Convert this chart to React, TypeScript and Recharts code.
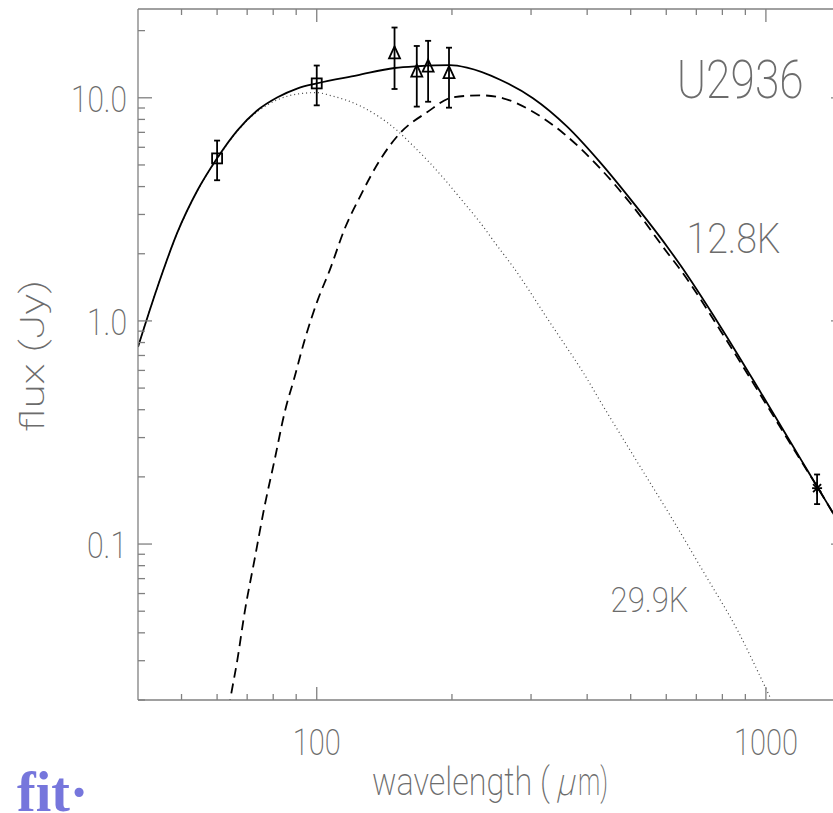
import React from "react";
import { ComposedChart, Line, Scatter, XAxis, YAxis, ErrorBar, ReferenceDot } from "recharts";

// total fit (solid line)
const totalWave = [40, 44.2, 48.9, 54.3, 60, 66.6, 73.8, 81.8, 90.7, 100, 123, 149, 168, 198, 216, 256, 303, 361, 428, 507, 604, 646, 793, 975, 1197, 1300, 1418, 1509];
const totalFlux = [0.765, 1.42, 2.48, 3.86, 5.36, 7.15, 8.79, 10.05, 11.03, 11.61, 12.61, 13.6, 13.85, 14.0, 13.65, 12.05, 9.95, 7.42, 5.12, 3.38, 2.14, 1.77, 0.94, 0.476, 0.239, 0.181, 0.1355, 0.11];

// cold component 12.8K (dashed)
const coldWave = [63.6, 64.3, 66.6, 69.1, 72.7, 76.5, 80.6, 84.8, 89.3, 94, 100.5, 106.9, 115.5, 124.7, 138.2, 153.2, 176, 201, 231, 260, 299, 354, 425, 507, 604, 646, 793, 975, 1197, 1300, 1509];
const coldFlux = [0.0182, 0.0206, 0.0304, 0.0494, 0.0852, 0.147, 0.239, 0.388, 0.562, 0.822, 1.24, 1.69, 2.6, 3.59, 5.25, 6.94, 8.61, 10.05, 10.26, 9.95, 8.79, 6.94, 4.89, 3.24, 2.015, 1.69, 0.902, 0.462, 0.236, 0.181, 0.109];

// warm component 29.9K (dotted)
const warmWave = [40, 44.2, 48.9, 54.3, 60, 66.6, 73.8, 81.8, 90.7, 100, 106.9, 126.7, 150.8, 163.8, 178.7, 195.1, 211.8, 231.1, 252.2, 273.8, 298.8, 326.1, 354.1, 392.4, 423.9, 518, 614, 727, 866, 990, 1026];
const warmFlux = [0.765, 1.42, 2.47, 3.84, 5.32, 7.1, 8.68, 9.8, 10.4, 10.55, 10.26, 9.07, 7.15, 6.1, 5.1, 4.18, 3.42, 2.76, 2.17, 1.744, 1.345, 1.025, 0.8, 0.585, 0.45, 0.232, 0.133, 0.0747, 0.0408, 0.0235, 0.0202];

// measured fluxes
const isoWave = [60, 100];
const isoFlux = [5.35, 11.6];
const isoErr = [1.08, 2.35];

const phtWave = [149, 167, 177, 197];
const phtFlux = [15.8, 13.1, 13.8, 12.9];
const phtErr = [4.85, 3.97, 4.2, 3.87];

const mmWave = [1300];
const mmFlux = [0.178];
const mmErr = [0.027];

// axis ticks
const xMajor = [100, 1000];
const xMinor = [50, 60, 70, 80, 90, 200, 300, 400, 500, 600, 700, 800, 900];
const yMajor = [0.1, 1, 10];
const yMinor = [0.02, 0.03, 0.04, 0.05, 0.06, 0.07, 0.08, 0.09, 0.2, 0.3, 0.4, 0.5, 0.6, 0.7, 0.8, 0.9, 2, 3, 4, 5, 6, 7, 8, 9, 20];

const pts = (w: number[], f: number[]) => w.map((x, i) => ({ x, y: f[i] }));
const obs = (w: number[], f: number[], e: number[]) => w.map((x, i) => ({ x, y: f[i], err: e[i] }));

const totalData = pts(totalWave, totalFlux);
const coldData = pts(coldWave, coldFlux);
const warmData = pts(warmWave, warmFlux);
const isoData = obs(isoWave, isoFlux, isoErr);
const phtData = obs(phtWave, phtFlux, phtErr);
const mmData = obs(mmWave, mmFlux, mmErr);

const AXIS = "#808080";
const TXT = "#6c6c6c";
const FONT = "Roboto, 'DejaVu Sans', sans-serif";
const WEIGHT = 200;

const labelWidth = (s: string) => s.replace(/\./g, "").length * 16 + (s.includes(".") ? 8 : 0);

const BottomTick = (p: any) => {
  const major = xMajor.includes(p.payload.value);
  const s = String(p.payload.value);
  return (
    <g>
      <line x1={p.x} x2={p.x} y1={p.y} y2={p.y - (major ? 13 : 6)} stroke={AXIS} strokeWidth={1.3} />
      {major && (
        <text x={p.x} y={p.y + 55} textAnchor="middle" fontSize={36} fontFamily={FONT} fontWeight={WEIGHT} fill={TXT}
          textLength={labelWidth(s)} lengthAdjust="spacingAndGlyphs">{s}</text>
      )}
    </g>
  );
};

const TopTick = (p: any) => {
  const major = xMajor.includes(p.payload.value);
  return <line x1={p.x} x2={p.x} y1={p.y} y2={p.y + (major ? 13 : 6)} stroke={AXIS} strokeWidth={1.3} />;
};

const LeftTick = (p: any) => {
  const major = yMajor.includes(p.payload.value);
  const s = Number(p.payload.value).toFixed(1);
  return (
    <g>
      <line x1={p.x} x2={p.x + (major ? 14 : 7)} y1={p.y} y2={p.y} stroke={AXIS} strokeWidth={1.3} />
      {major && (
        <text x={p.x - 11} y={p.y + 14} textAnchor="end" fontSize={36} fontFamily={FONT} fontWeight={WEIGHT} fill={TXT}
          textLength={labelWidth(s)} lengthAdjust="spacingAndGlyphs">{s}</text>
      )}
    </g>
  );
};

const RightTick = (p: any) => {
  const major = yMajor.includes(p.payload.value);
  return <line x1={p.x} x2={p.x - (major ? 14 : 7)} y1={p.y} y2={p.y} stroke={AXIS} strokeWidth={1.3} />;
};

const Square = (p: any) => (
  <rect x={p.cx - 5} y={p.cy - 5} width={10} height={10} fill="none" stroke="#000" strokeWidth={1.8} />
);
const Triangle = (p: any) => (
  <path d={`M${p.cx},${p.cy - 7}L${p.cx + 5.5},${p.cy + 5}L${p.cx - 5.5},${p.cy + 5}Z`} fill="none" stroke="#000" strokeWidth={1.8} />
);
const Asterisk = (p: any) => (
  <g stroke="#000" strokeWidth={1.8}>
    <line x1={p.cx - 5} x2={p.cx + 5} y1={p.cy} y2={p.cy} />
    <line x1={p.cx} x2={p.cx} y1={p.cy - 6} y2={p.cy + 6} />
    <line x1={p.cx - 4} x2={p.cx + 4} y1={p.cy - 4} y2={p.cy + 4} />
    <line x1={p.cx - 4} x2={p.cx + 4} y1={p.cy + 4} y2={p.cy - 4} />
  </g>
);

const annot = (txt: string, size: number, width: number) => (p: any) => (
  <text x={p.cx} y={p.cy} fontSize={size} fontFamily={FONT} fontWeight={WEIGHT} fill={TXT}
    textLength={width} lengthAdjust="spacingAndGlyphs">{txt}</text>
);

const xTicks = [...xMinor, ...xMajor].sort((a, b) => a - b);
const yTicks = [...yMinor, ...yMajor].sort((a, b) => a - b);

export default function App() {
  return (
    <div style={{ position: "fixed", left: 0, top: 0, width: 833, height: 813, overflow: "hidden", background: "#fff" }}>
      <ComposedChart width={880} height={813} margin={{ top: 8, right: 34, bottom: 53, left: 78 }}>
        <XAxis xAxisId={0} dataKey="x" type="number" scale="log" domain={[40, 1500]} allowDataOverflow
          ticks={xTicks} interval={0} tickSize={0} tickMargin={0} tickLine={false} height={60}
          axisLine={{ stroke: AXIS, strokeWidth: 1.3 }} tick={BottomTick} />
        <XAxis xAxisId="top" orientation="top" dataKey="x" type="number" scale="log" domain={[40, 1500]} allowDataOverflow
          ticks={xTicks} interval={0} tickSize={0} tickMargin={0} tickLine={false} height={1}
          axisLine={{ stroke: AXIS, strokeWidth: 1.3 }} tick={TopTick} />
        <YAxis yAxisId={0} dataKey="y" type="number" scale="log" domain={[0.02, 25]} allowDataOverflow
          ticks={yTicks} interval={0} tickSize={0} tickMargin={0} tickLine={false} width={60}
          axisLine={{ stroke: AXIS, strokeWidth: 1.3 }} tick={LeftTick} />
        <YAxis yAxisId="right" orientation="right" type="number" scale="log" domain={[0.02, 25]} allowDataOverflow
          ticks={yTicks} interval={0} tickSize={0} tickMargin={0} tickLine={false} width={1}
          axisLine={{ stroke: AXIS, strokeWidth: 1.3 }} tick={RightTick} />

        <Line data={warmData} dataKey="y" type="monotone" stroke="#444" strokeWidth={1.2} strokeDasharray="1 3"
          dot={false} isAnimationActive={false} />
        <Line data={coldData} dataKey="y" type="monotone" stroke="#000" strokeWidth={1.8} strokeDasharray="10 6"
          dot={false} isAnimationActive={false} />
        <Line data={totalData} dataKey="y" type="monotone" stroke="#000" strokeWidth={1.8}
          dot={false} isAnimationActive={false} />

        <Scatter data={isoData} dataKey="y" shape={Square} isAnimationActive={false}>
          <ErrorBar dataKey="err" direction="y" width={3} stroke="#000" strokeWidth={1.8} />
        </Scatter>
        <Scatter data={phtData} dataKey="y" shape={Triangle} isAnimationActive={false}>
          <ErrorBar dataKey="err" direction="y" width={3} stroke="#000" strokeWidth={1.8} />
        </Scatter>
        <Scatter data={mmData} dataKey="y" shape={Asterisk} isAnimationActive={false}>
          <ErrorBar dataKey="err" direction="y" width={3} stroke="#000" strokeWidth={1.8} />
        </Scatter>

        <ReferenceDot x={633} y={9.95} r={0} shape={annot("U2936", 53, 127)} />
        <ReferenceDot x={666} y={2.015} r={0} shape={annot("12.8K", 42, 94)} />
        <ReferenceDot x={451} y={0.0494} r={0} shape={annot("29.9K", 35, 78)} />
      </ComposedChart>

      <svg width={833} height={813} style={{ position: "absolute", left: 0, top: 0, pointerEvents: "none" }}>
        <text x={372} y={795} fontSize={38} fontFamily={FONT} fontWeight={WEIGHT} fill={TXT}
          textLength={178} lengthAdjust="spacingAndGlyphs">wavelength (</text>
        <text x={556} y={795} fontSize={38} fontFamily={FONT} fontWeight={WEIGHT} fill={TXT}
          transform="skewX(-12) translate(169 0)" textLength={18} lengthAdjust="spacingAndGlyphs">μ</text>
        <text x={578} y={795} fontSize={38} fontFamily={FONT} fontWeight={WEIGHT} fill={TXT}
          textLength={30} lengthAdjust="spacingAndGlyphs">m)</text>
        <text x={44} y={356} textAnchor="middle" fontSize={34} fontFamily={FONT} fontWeight={WEIGHT} fill={TXT}
          transform="rotate(-90 44 356)" textLength={152} lengthAdjust="spacingAndGlyphs">
          flux (Jy)
        </text>
        <text x={17} y={811} fontSize={56} fontFamily="'Liberation Serif', serif" fontWeight={700} fill="#7676dc">
          fit·
        </text>
      </svg>
    </div>
  );
}
